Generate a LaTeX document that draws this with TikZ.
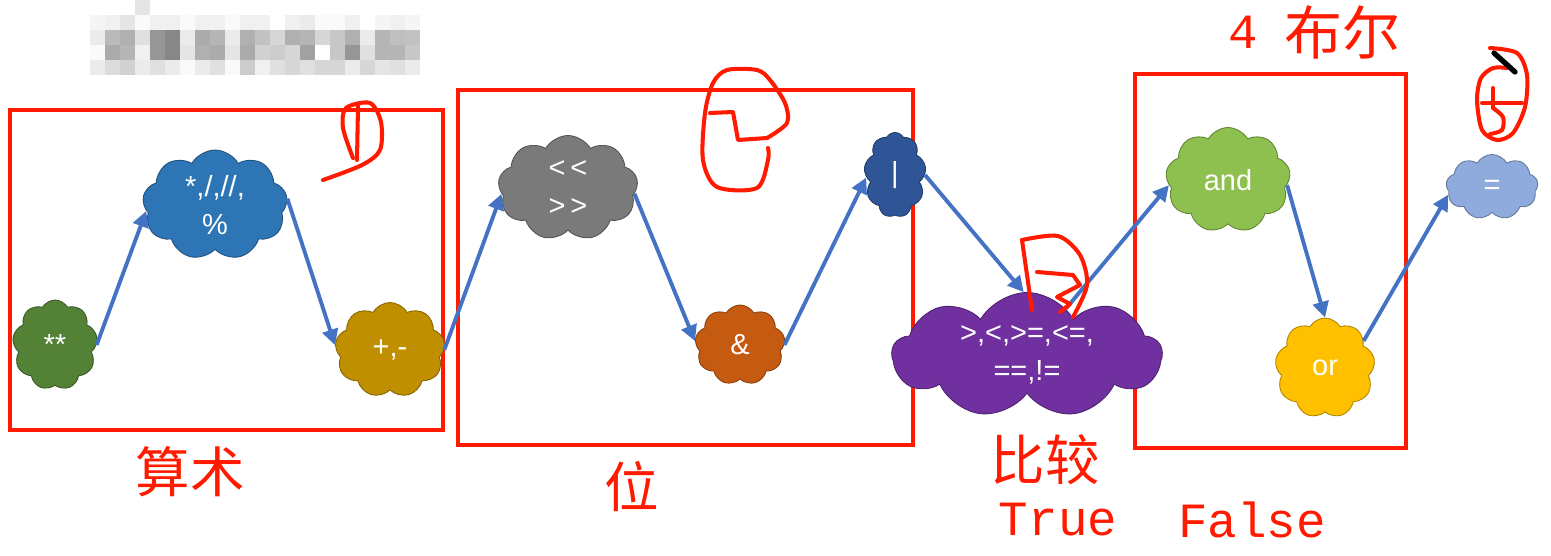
\documentclass[tikz,border=0pt]{standalone}
\usepackage{fontspec}
\setmainfont{Liberation Sans}
\newfontfamily\cjk{Noto Sans CJK SC}
\newfontfamily\mono{Liberation Mono}
\usetikzlibrary{shapes.symbols,arrows.meta}
\definecolor{arrowblue}{HTML}{4472C4}
\definecolor{inkred}{HTML}{FF1A00}
\begin{document}
\begin{tikzpicture}[x=0.02cm, y=-0.02cm,
                    bubble/.style = {shape=cloud, cloud puffs=9, cloud puff arc=120,
                        cloud ignores aspect, draw=#1!70!black, fill=#1,
                        line width=0.5pt, text=white, inner sep=0pt, align=center,
                        font=\fontsize{16.5}{22}\selectfont},
                    link/.style = {draw=arrowblue, line width=2.2pt,
                        -{Triangle[length=9pt,width=9pt]}},
                    redbox/.style = {draw=inkred, line width=2pt},
                    redtext/.style = {text=inkred, inner sep=0pt,
                        font=\cjk\fontsize{31}{36}\selectfont},
                    ink/.style = {draw=inkred, line width=2.3pt, line cap=round, line join=round}]

    \useasboundingbox (0,0) rectangle (1551,555);

    % blurred title
    \fill[black!10] (135,0) rectangle +(15,15);
    \foreach \g [count=\i from 0] in {4,6,10,2,6,6,2,6,6,2,6,6,0,6,8,2,2,6,0,4,6,4}
        \fill[black!\g] ({90+15*\i},15) rectangle +(15,15);
    \foreach \g [count=\i from 0] in {8,27,31,12,41,47,8,33,29,8,31,24,16,31,29,16,22,31,8,29,25,24}
        \fill[black!\g] ({90+15*\i},30) rectangle +(15,15);
    \foreach \g [count=\i from 0] in {2,33,29,6,41,47,10,31,33,10,33,18,20,16,37,0,22,41,12,29,29,22}
        \fill[black!\g] ({90+15*\i},45) rectangle +(15,15);
    \foreach \g [count=\i from 0] in {8,14,18,8,12,8,2,8,12,2,20,6,12,16,12,16,16,8,16,10,12,8}
        \fill[black!\g] ({90+15*\i},60) rectangle +(15,15);

    % groups
    \draw[redbox] (10,110) rectangle (443,430);
    \draw[redbox] (458,90) rectangle (913,445);
    \draw[redbox] (1135,74) rectangle (1406,448);

    % operators
    \definecolor{c1}{HTML}{538135}
    \definecolor{c2}{HTML}{2E75B6}
    \definecolor{c3}{HTML}{BF8F00}
    \definecolor{c4}{HTML}{7A7A7A}
    \definecolor{c5}{HTML}{C55A11}
    \definecolor{c6}{HTML}{2F5597}
    \definecolor{c7}{HTML}{7030A0}
    \definecolor{c8}{HTML}{8DC04E}
    \definecolor{c9}{HTML}{FFC000}
    \definecolor{c10}{HTML}{8FAADC}
    \node[bubble=c1, minimum width=1.7cm, minimum height=1.8cm] (pow) at (55,345) {**};
    \node[bubble=c2, minimum width=2.9cm, minimum height=2.2cm] (mul) at (215,205) {*,/,//,\\\%};
    \node[bubble=c3, minimum width=2.2cm, minimum height=1.9cm] (add) at (390,350) {+,-};
    \node[bubble=c4, minimum width=2.8cm, minimum height=2.1cm] (shift) at (568,188) {{<}\,{<}\\{>}\,{>}};
    \node[bubble=c5, minimum width=1.8cm, minimum height=1.6cm] (band) at (740,345) {\&};
    \node[bubble=c6, minimum width=1.24cm, minimum height=1.7cm] (bor) at (895,175) {|};
    \node[bubble=c7, minimum width=5.4cm, minimum height=2.5cm] (cmp) at (1027,355) {>,<,>=,<=,\\==,!=};
    \node[bubble=c8, minimum width=2.5cm, minimum height=2.1cm] (land) at (1228,180) {and};
    \node[bubble=c9, minimum width=2cm, minimum height=2cm] (lor) at (1325,368) {or};
    \node[bubble=c10, minimum width=1.84cm, minimum height=1.3cm] (assign) at (1492,187) {=};

    \draw[link] (pow.east) -- (mul.185);
    \draw[link] (mul.5) -- (add.175);
    \draw[link] (add.east) -- (shift.185);
    \draw[link] (shift.355) -- (band.175);
    \draw[link] (band.east) -- (bor.185);
    \draw[link] (bor.east) -- (cmp.93);
    \draw[link] (cmp.50) -- (land.185);
    \draw[link] (land.355) -- (lor.north);
    \draw[link] (lor.35) -- (assign.190);

    % labels
    \node[redtext] (arith) at (190,472) {算术};
    \node[redtext] (bits) at (632,487) {位};
    \node[redtext] (compare) at (1045,460) {比较};
    \node[redtext, font=\mono\fontsize{28}{32}\selectfont] (yes) at (1058,520) {True};
    \node[redtext, font=\mono\fontsize{28}{32}\selectfont] (no) at (1252,520) {False};
    \node[redtext, font=\mono\fontsize{28}{32}\selectfont] (four) at (1243,32) {4};
    \node[redtext, font=\cjk\fontsize{33}{36}\selectfont] (bool) at (1342,32) {布尔};

    % handwritten marks
    \draw[ink] (358,106) -- (357,160);
    \draw[ink] plot[smooth] coordinates {(353,158) (343,128) (346,108) (370,103) (381,122) (380,150) (362,165) (323,180)};
    \draw[ink] (710,113) -- (733,112) -- (738,140) -- (767,138);
    \draw[ink] plot[smooth] coordinates {(767,138) (787,123) (785,103) (770,80) (757,70) (727,70) (713,83) (705,113) (703,160) (717,187) (757,188) (768,160) (768,148)};
    \draw[ink] (1032,310) -- (1022,240);
    \draw[ink] plot[smooth] coordinates {(1022,240) (1058,236) (1080,255) (1087,285) (1073,317)};
    \draw[ink] (1037,272) -- (1073,275) -- (1080,285) -- (1057,297) -- (1070,304) -- (1060,312);
    \draw[ink] plot[smooth] coordinates {(1490,48) (1517,53) (1527,75) (1525,107) (1513,133) (1497,140) (1482,130) (1477,100) (1481,78) (1493,68) (1507,68)};
    \draw[ink] (1482,103) -- (1522,103);
    \draw[ink] (1493,88) -- (1493,108);
    \draw[ink] plot[smooth] coordinates {(1493,108) (1503,117) (1502,130) (1490,134)};
    \draw[line width=3pt, line cap=round] (1494,53) -- (1515,72);

\end{tikzpicture}
\end{document}
